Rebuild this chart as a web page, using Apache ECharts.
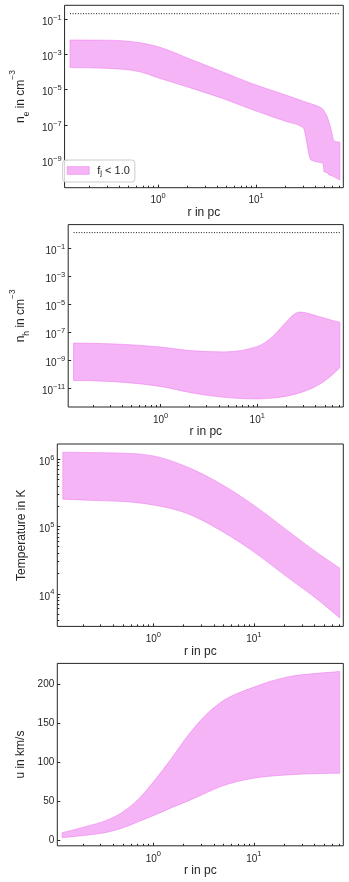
<!DOCTYPE html>
<html><head><meta charset="utf-8">
<script src="https://cdn.jsdelivr.net/npm/echarts@6/dist/echarts.min.js"></script>
<style>html,body{margin:0;padding:0;background:#fff}#c{width:349px;height:882px}</style>
</head><body><div id="c"></div>
<script>
// ---------- data ----------
// panel 1: electron density n_e (cm^-3)
const R_NE = [0.126, 0.295, 0.631, 1.0, 2.14, 4.57, 9.33, 14.1, 20.0, 30.2, 36.3, 46.2, 48.3, 49.4, 53.7, 55.2, 58.5, 62.2, 71.5];
const NE_UPPER = [6.46e-3, 6.31e-3, 4.68e-3, 2.69e-3, 5.25e-4, 1.00e-4, 2.09e-5, 9.55e-6, 5.01e-6, 2.24e-6, 1.58e-6, 9.12e-7, 7.59e-7, 6.31e-7, 2.51e-7, 1.58e-7, 5.25e-8, 1.29e-8, 1.05e-8];
const NE_LOWER = [1.78e-4, 1.62e-4, 1.07e-4, 4.68e-5, 1.26e-5, 3.16e-6, 7.08e-7, 3.16e-7, 1.62e-7, 7.08e-8, 1.05e-9, 7.24e-10, 6.76e-10, 2.29e-10, 1.91e-10, 1.51e-10, 1.38e-10, 1.17e-10, 7.76e-11];
const NE_LIMIT = 0.2;
// panel 2: neutral hydrogen density n_h (cm^-3)
const R_NH = [0.126, 0.295, 0.631, 1.0, 2.14, 4.57, 9.89, 14.5, 19.5, 24.5, 27.7, 32.4, 42.3, 57.3, 71.5];
const NH_UPPER = [1.62e-8, 1.45e-8, 1.10e-8, 8.51e-9, 4.57e-9, 3.80e-9, 8.91e-9, 4.90e-8, 4.37e-7, 2.04e-6, 2.69e-6, 2.29e-6, 1.35e-6, 7.41e-7, 5.01e-7];
const NH_LOWER = [3.47e-11, 2.95e-11, 1.95e-11, 1.29e-11, 4.37e-12, 2.14e-12, 1.66e-12, 1.91e-12, 2.51e-12, 3.55e-12, 4.47e-12, 6.61e-12, 1.58e-11, 6.76e-11, 2.82e-10];
const NH_LIMIT = 1.3;
// panel 3: temperature (K)
const R_T = [0.126, 0.295, 0.631, 1.0, 2.14, 4.57, 9.89, 21.2, 45.6, 71.5];
const T_UPPER = [1.26e6, 1.24e6, 1.20e6, 1.11e6, 7.69e5, 4.37e5, 2.08e5, 8.87e4, 3.78e4, 2.40e4];
const T_LOWER = [2.53e5, 2.41e5, 2.28e5, 2.08e5, 1.57e5, 8.87e4, 4.24e4, 1.80e4, 7.69e3, 4.37e3];
// panel 4: velocity u (km/s)
const R_U = [0.124, 0.225, 0.331, 0.485, 0.710, 1.04, 1.52, 2.23, 3.40, 4.60, 9.89, 21.2, 45.6, 71.5];
const U_UPPER = [10.2, 18.8, 25.2, 35.8, 53.0, 77.7, 105.4, 135, 162, 176, 196, 209, 214.2, 216.2];
const U_LOWER = [3.8, 7.3, 10.2, 15.9, 24.3, 32.9, 42.2, 50.8, 61.5, 68.8, 79.8, 84.0, 85.8, 86.2];
// ticks
const X_MAJOR_TICKS = [1, 10];
const X_MINOR_TICKS = [0.2, 0.3, 0.4, 0.5, 0.6, 0.7, 0.8, 0.9, 2, 3, 4, 5, 6, 7, 8, 9, 20, 30, 40, 50, 60, 70];
const NE_TICKS = [1e-1, 1e-3, 1e-5, 1e-7, 1e-9];
const NH_TICKS = [1e-1, 1e-3, 1e-5, 1e-7, 1e-9, 1e-11];
const T_TICKS = [1e4, 1e5, 1e6];
const T_MINOR_TICKS = [4e3, 5e3, 6e3, 7e3, 8e3, 9e3, 2e4, 3e4, 4e4, 5e4, 6e4, 7e4, 8e4, 9e4, 2e5, 3e5, 4e5, 5e5, 6e5, 7e5, 8e5, 9e5];
const U_TICKS = [0, 50, 100, 150, 200];
const LEGEND_LABEL = 'f_j < 1.0';

// ---------- styling ----------
const FONT = '"Liberation Sans", Arial, sans-serif';
const TXT = '#262626';
const FILL = 'rgba(238,130,238,0.6)';
const EDGE = 'rgba(238,130,238,0.6)';
const LOG = v => Math.log10(v);
const LIN = v => v;
const X_LOG_RANGE = [-0.955, 1.89];

function supLabel(v) {
  const e = Math.round(v);
  return '{b|10}{s|' + (e < 0 ? '\u2212' + (-e) : '' + e) + '}';
}
const SUP_RICH = {
  b: { fontSize: 10, fontFamily: FONT, color: TXT, padding: [6, 0, 0, 0] },
  s: { fontSize: 7.5, fontFamily: FONT, color: TXT, padding: [0, 0, 3, 0] }
};
const NAME_RICH = {
  b: { fontSize: 12, fontFamily: FONT, color: TXT },
  sub: { fontSize: 8.5, fontFamily: FONT, color: TXT, padding: [12, 0, 0, 0] },
  sup: { fontSize: 8.5, fontFamily: FONT, color: TXT, padding: [0, 0, 16, 0] }
};

function bandRows(r, lo, hi, tf) { return r.map((x, i) => [LOG(x), tf(lo[i]), tf(hi[i])]); }

// monotone cubic (in pixel space) path through points
function monoPath(p) {
  const n = p.length;
  if (n < 2) return '';
  if (n === 2) return 'L' + p[1][0] + ',' + p[1][1];
  const t = new Array(n);
  for (let i = 1; i < n - 1; i++) {
    const h0 = p[i][0] - p[i - 1][0], h1 = p[i + 1][0] - p[i][0];
    const s0 = (p[i][1] - p[i - 1][1]) / h0, s1 = (p[i + 1][1] - p[i][1]) / h1;
    const pp = (s0 * h1 + s1 * h0) / (h0 + h1);
    t[i] = (Math.sign(s0) + Math.sign(s1)) * Math.min(Math.abs(s0), Math.abs(s1), 0.5 * Math.abs(pp)) || 0;
  }
  const hA = p[1][0] - p[0][0];
  t[0] = (3 * (p[1][1] - p[0][1]) / hA - t[1]) / 2;
  const hB = p[n - 1][0] - p[n - 2][0];
  t[n - 1] = (3 * (p[n - 1][1] - p[n - 2][1]) / hB - t[n - 2]) / 2;
  let d = '';
  for (let i = 0; i < n - 1; i++) {
    const dx = (p[i + 1][0] - p[i][0]) / 3;
    d += 'C' + (p[i][0] + dx) + ',' + (p[i][1] + dx * t[i]) + ' ' +
      (p[i + 1][0] - dx) + ',' + (p[i + 1][1] - dx * t[i + 1]) + ' ' +
      p[i + 1][0] + ',' + p[i + 1][1];
  }
  return d;
}

function renderBand(params, api) {
  if (params.dataIndexInside !== 0) return null;
  const n = params.dataInsideLength;
  const up = [], dn = [];
  for (let i = 0; i < n; i++) {
    const x = api.value(0, i);
    up.push(api.coord([x, api.value(2, i)]));
    dn.push(api.coord([x, api.value(1, i)]));
  }
  dn.reverse();
  const d = 'M' + up[0][0] + ',' + up[0][1] + monoPath(up) +
    'L' + dn[0][0] + ',' + dn[0][1] + monoPath(dn) + 'Z';
  return { type: 'path', shape: { pathData: d }, style: { fill: FILL, stroke: EDGE, lineWidth: 1 } };
}

const panels = [
  { top: 5.3, rows: bandRows(R_NE, NE_LOWER, NE_UPPER, LOG), yRange: [-10.55, -0.225],
    yTicks: NE_TICKS.map(LOG), yMinor: [], fmt: supLabel, rich: SUP_RICH,
    name: '{b|n}{sub|e}{b| in cm}{sup|\u22123}', nameRich: NAME_RICH, nameGap: 23, limit: LOG(NE_LIMIT), seriesName: LEGEND_LABEL },
  { top: 224.6, rows: bandRows(R_NH, NH_LOWER, NH_UPPER, LOG), yRange: [-12.36, 0.686],
    yTicks: NH_TICKS.map(LOG), yMinor: [], fmt: supLabel, rich: SUP_RICH,
    name: '{b|n}{sub|h}{b| in cm}{sup|\u22123}', nameRich: NAME_RICH, nameGap: 28.5, limit: LOG(NH_LIMIT), seriesName: 'nh band' },
  { top: 444, rows: bandRows(R_T, T_LOWER, T_UPPER, LOG), yRange: [3.516, 6.222],
    yTicks: T_TICKS.map(LOG), yMinor: T_MINOR_TICKS.map(LOG), fmt: supLabel, rich: SUP_RICH,
    name: 'Temperature in K', nameRich: null, nameGap: 23, limit: null, seriesName: 'T band' },
  { top: 663.4, rows: bandRows(R_U, U_LOWER, U_UPPER, LIN), yRange: [-6.6, 226.6],
    yTicks: U_TICKS, yMinor: [], fmt: v => '' + Math.round(v), rich: null,
    name: 'u in km/s', nameRich: null, nameGap: 22, limit: null, seriesName: 'u band' }
];

const grid = [], xAxis = [], yAxis = [], series = [];
const tickStyle = { color: TXT, width: 1 };
panels.forEach((p, i) => {
  grid.push({ left: 57.3, width: 286, top: p.top, height: 182.4, show: true, borderColor: TXT, borderWidth: 1, backgroundColor: 'transparent' });
  xAxis.push({
    gridIndex: i, type: 'value', position: 'bottom', min: X_LOG_RANGE[0], max: X_LOG_RANGE[1],
    axisLine: { show: false, onZero: false }, splitLine: { show: false },
    axisTick: { inside: true, length: 3, customValues: X_MAJOR_TICKS.map(LOG), lineStyle: tickStyle },
    axisLabel: { customValues: X_MAJOR_TICKS.map(LOG), formatter: supLabel, rich: SUP_RICH, margin: 2, color: TXT, fontFamily: FONT },
    name: 'r in pc', nameLocation: 'middle', nameGap: 17,
    nameTextStyle: { fontSize: 12, color: TXT, fontFamily: FONT }
  });
  xAxis.push({
    gridIndex: i, type: 'value', position: 'bottom', min: X_LOG_RANGE[0], max: X_LOG_RANGE[1],
    axisLine: { show: false, onZero: false }, splitLine: { show: false }, axisLabel: { show: false },
    axisTick: { inside: true, length: 2, customValues: X_MINOR_TICKS.map(LOG), lineStyle: tickStyle }
  });
  const yLabel = { customValues: p.yTicks, formatter: p.fmt, margin: 3, color: TXT, fontFamily: FONT, fontSize: 10 };
  if (p.rich) yLabel.rich = p.rich;
  const nameStyle = { fontSize: 12, color: TXT, fontFamily: FONT };
  if (p.nameRich) nameStyle.rich = p.nameRich;
  yAxis.push({
    gridIndex: i, type: 'value', position: 'left', min: p.yRange[0], max: p.yRange[1],
    axisLine: { show: false, onZero: false }, splitLine: { show: false },
    axisTick: { inside: true, length: 3, customValues: p.yTicks, lineStyle: tickStyle },
    axisLabel: yLabel,
    name: p.name, nameLocation: 'middle', nameRotate: 90, nameGap: p.nameGap, nameTextStyle: nameStyle
  });
  yAxis.push({
    gridIndex: i, type: 'value', position: 'left', min: p.yRange[0], max: p.yRange[1],
    show: p.yMinor.length > 0,
    axisLine: { show: false, onZero: false }, splitLine: { show: false }, axisLabel: { show: false },
    axisTick: { inside: true, length: 2, customValues: p.yMinor.length ? p.yMinor : [p.yRange[0]], lineStyle: tickStyle }
  });
  series.push({
    type: 'custom', name: p.seriesName, coordinateSystem: 'cartesian2d',
    xAxisIndex: 2 * i, yAxisIndex: 2 * i, data: p.rows, encode: { x: 0, y: [1, 2] },
    renderItem: renderBand, itemStyle: { color: FILL }, silent: true, clip: true
  });
  if (p.limit !== null) {
    const x0 = p.rows[0][0], x1 = p.rows[p.rows.length - 1][0];
    series.push({
      type: 'line', name: 'limit ' + i, xAxisIndex: 2 * i, yAxisIndex: 2 * i,
      data: [[x0, p.limit], [x1, p.limit]], symbol: 'none', silent: true,
      lineStyle: { color: '#1a1a1a', width: 1, type: [1, 1.6] }
    });
  }
});

const chart = echarts.init(document.getElementById('c'), null, { renderer: 'canvas' });
chart.setOption({
  animation: false,
  textStyle: { fontFamily: FONT, color: TXT },
  grid, xAxis, yAxis, series,
  legend: {
    left: 62.7, top: 160, orient: 'horizontal',
    data: [{ name: LEGEND_LABEL, icon: 'rect', itemStyle: { color: FILL, borderColor: EDGE, borderWidth: 1 } }],
    itemWidth: 22, itemHeight: 7.7, padding: [5, 5, 5, 4],
    borderColor: '#cccccc', borderWidth: 1, borderRadius: 3, backgroundColor: 'rgba(255,255,255,0.8)',
    formatter: () => '{f|f}{j|j}{a| < 1.0}',
    textStyle: {
      fontFamily: FONT, color: TXT, fontSize: 11,
      rich: {
        f: { fontSize: 11, fontFamily: FONT, color: TXT, padding: [0, 0, 0, 3] },
        j: { fontSize: 8, fontFamily: FONT, color: TXT, padding: [5, 0, 0, 0] },
        a: { fontSize: 11, fontFamily: FONT, color: TXT }
      }
    }
  }
});
</script></body></html>
